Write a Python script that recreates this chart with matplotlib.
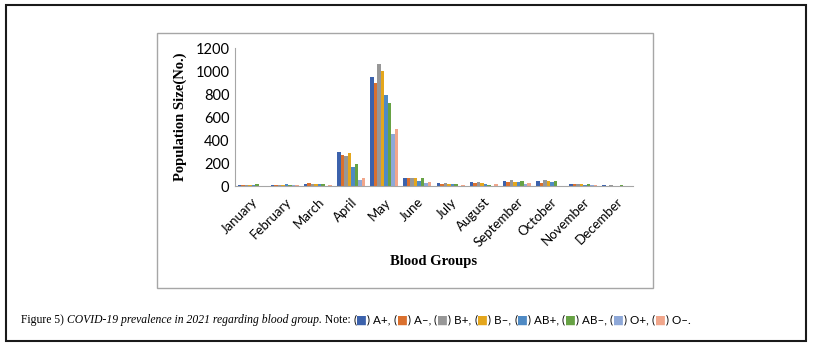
import numpy as np
import matplotlib
matplotlib.use("Agg")
import matplotlib.pyplot as plt
from matplotlib.patches import Rectangle

months = ["January", "February", "March", "April", "May", "June", "July",
          "August", "September", "October", "November", "December"]
groups = ["A+", "A\u2013", "B+", "B\u2013", "AB+", "AB\u2013", "O+", "O\u2013"]

a_pos = [8, 5, 15, 294, 945, 67, 23, 32, 47, 41, 15, 5]
a_neg = [6, 12, 23, 268, 900, 67, 15, 23, 32, 29, 15, 4]
b_pos = [5, 12, 15, 259, 1065, 67, 23, 32, 50, 50, 15, 6]
b_neg = [12, 8, 15, 286, 1004, 67, 15, 23, 32, 41, 15, 4]
ab_pos = [8, 14, 15, 163, 792, 41, 15, 15, 32, 32, 9, 3]
ab_neg = [14, 12, 15, 190, 720, 73, 20, 12, 41, 41, 15, 5]
o_pos = [3, 10, 2, 50, 452, 23, 3, 2, 17, 3, 6, 2]
o_neg = [2, 5, 6, 67, 493, 32, 12, 17, 26, 3, 6, 2]

series = [a_pos, a_neg, b_pos, b_neg, ab_pos, ab_neg, o_pos, o_neg]
colors = ["#3C62AC", "#DA702E", "#979797", "#E4A61C",
          "#4F8AC4", "#67A244", "#8EA8D8", "#F1A68B"]

W, H = 813, 350
fig = plt.figure(figsize=(W / 100, H / 100), dpi=100)

# outer frame and inner chart box (pixel coords -> figure fraction)
def px_rect(x0, y0, x1, y1, **kw):
    fig.patches.append(Rectangle((x0 / W, 1 - y1 / H), (x1 - x0) / W, (y1 - y0) / H,
                                 transform=fig.transFigure, fill=False, **kw))

px_rect(6, 5, 806, 341, edgecolor="#1a1a1a", linewidth=1.5)
px_rect(157, 33, 653, 288, edgecolor="#a6a6a6", linewidth=1.0)

ax = fig.add_axes([235 / W, 1 - 186 / H, 398 / W, 138 / H])
x = np.arange(len(months))
bw = 0.106
for i, (vals, c) in enumerate(zip(series, colors)):
    ax.bar(x + (i - 3.5) * bw, vals, width=bw, color=c, label=groups[i])

ax.set_xlim(-0.5, len(months) - 0.5)
ax.set_ylim(0, 1200)
ax.set_yticks(range(0, 1201, 200))
ax.set_xticks(x)
ax.set_xticklabels(months, rotation=45, ha="right", rotation_mode="anchor",
                   fontsize=9.5, family="Lato")
for lab in ax.get_yticklabels():
    lab.set_family("Lato")
    lab.set_fontsize(10.5)
for s in ["top", "right"]:
    ax.spines[s].set_visible(False)
for s in ["left", "bottom"]:
    ax.spines[s].set_color("#a6a6a6")
ax.tick_params(axis="x", length=0, pad=7)
ax.tick_params(axis="y", length=0, pad=4)
ax.set_ylabel("Population Size(No.)", family="Liberation Serif", fontweight="bold",
              fontsize=10.5, labelpad=6)
ax.set_xlabel("Blood Groups", family="Liberation Serif", fontweight="bold",
              fontsize=10.5, labelpad=4)

# caption built piece by piece
fig.canvas.draw()
renderer = fig.canvas.get_renderer()
serif = ["Liberation Serif", "DejaVu Sans"]
sans = ["Lato", "DejaVu Sans"]
pieces = [("Figure 5) ", serif, "normal", "black"),
          ("COVID-19 prevalence in 2021 regarding blood group.", serif, "italic", "black"),
          (" Note: ", serif, "normal", "black")]
for i, g in enumerate(groups):
    pieces.append(("(", sans, "normal", "black"))
    pieces.append(("\u25a0", ["DejaVu Sans"], "normal", colors[i]))
    end = ", " if i < len(groups) - 1 else "."
    pieces.append((") " + g + end, sans, "normal", "black"))

cx = 21
cy = 1 - 320 / H
for txt, fam, style, col in pieces:
    t = fig.text(cx / W, cy, txt, family=fam, style=style, color=col,
                 fontsize=8.4, va="center", ha="left")
    bb = t.get_window_extent(renderer)
    cx += bb.width

fig.savefig("out.png", dpi=100)
